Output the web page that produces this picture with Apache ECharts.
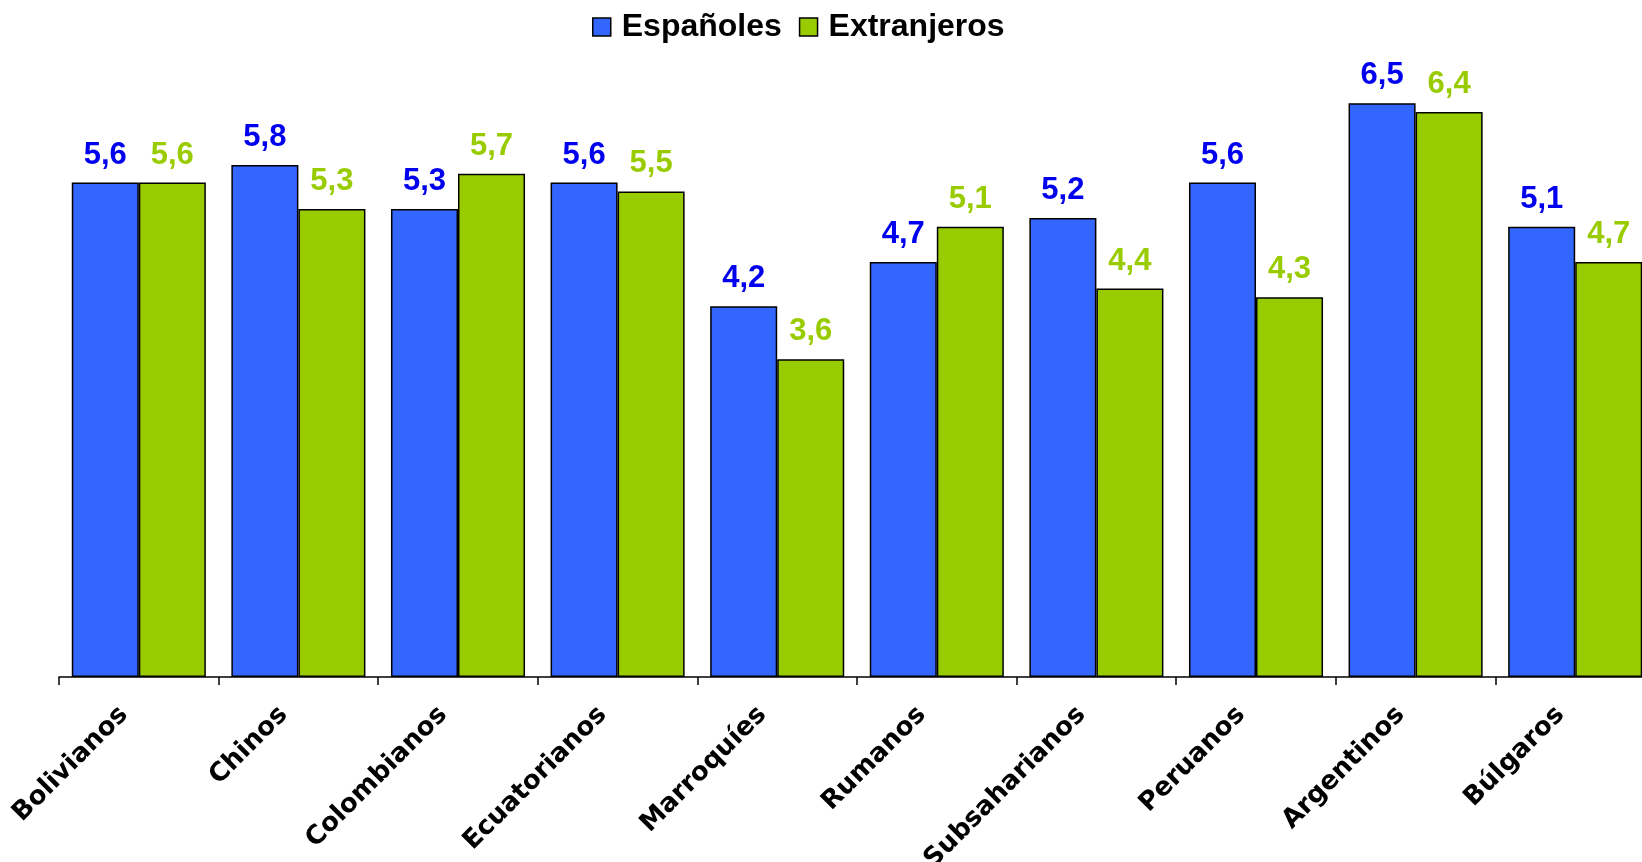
<!DOCTYPE html>
<html>
<head>
<meta charset="utf-8">
<script src="https://cdn.jsdelivr.net/npm/echarts@6/dist/echarts.min.js"></script>
<style>
  html, body { margin: 0; padding: 0; background: #fff; }
  #chart { width: 1642px; height: 862px; }
</style>
</head>
<body>
<div id="chart"></div>
<script>
const categories = ['Bolivianos', 'Chinos', 'Colombianos', 'Ecuatorianos', 'Marroquíes',
  'Rumanos', 'Subsaharianos', 'Peruanos', 'Argentinos', 'Búlgaros'];
const espanoles = [5.6, 5.8, 5.3, 5.6, 4.2, 4.7, 5.2, 5.6, 6.5, 5.1];
const extranjeros = [5.6, 5.3, 5.7, 5.5, 3.6, 5.1, 4.4, 4.3, 6.4, 4.7];

const chart = echarts.init(document.getElementById('chart'));

// comma decimals like the original
const fmt = p => p.value.toFixed(1).replace('.', ',');

const labelStyle = color => ({
  show: true,
  position: 'top',
  distance: 12,
  formatter: fmt,
  color: color,
  fontFamily: 'Liberation Sans, Arial, sans-serif',
  fontWeight: 'bold',
  fontSize: 31
});

chart.setOption({
  animation: false,
  legend: {
    top: 6,
    left: 587,
    icon: 'rect',
    itemWidth: 18,
    itemHeight: 18,
    itemGap: 17,
    textStyle: {
      fontFamily: 'Liberation Sans, Arial, sans-serif',
      fontWeight: 'bold',
      fontSize: 32,
      color: '#000',
      padding: [0, 0, 0, 6]
    },
    itemStyle: { borderColor: '#000', borderWidth: 1.5 },
    data: ['Españoles', 'Extranjeros']
  },
  // plot runs past the right edge, last bar is cut off like the original
  grid: { left: 59, width: 1596, top: 59, bottom: 185, outerBoundsMode: 'none', containLabel: false },
  xAxis: {
    type: 'category',
    data: categories,
    axisLine: { lineStyle: { color: '#000', width: 1.5 } },
    axisTick: { show: true, length: 8, lineStyle: { color: '#000', width: 1.5 } },
    axisLabel: {
      rotate: 45,
      margin: 19,
      interval: 0,
      color: '#000',
      fontFamily: 'DejaVu Sans, Verdana, sans-serif',
      fontWeight: 'bold',
      fontSize: 26,
      padding: [0, 21, 0, 0]
    }
  },
  yAxis: {
    type: 'value',
    min: 0,
    max: 7,
    show: false,
    splitLine: { show: false }
  },
  series: [
    {
      name: 'Españoles',
      type: 'bar',
      data: espanoles,
      barGap: '0%',
      barCategoryGap: '16%',
      itemStyle: { color: '#3366FF', borderColor: '#000', borderWidth: 1.5 },
      label: labelStyle('#0000EE')
    },
    {
      name: 'Extranjeros',
      type: 'bar',
      data: extranjeros,
      itemStyle: { color: '#99CC00', borderColor: '#000', borderWidth: 1.5 },
      label: labelStyle('#99CC00')
    }
  ]
});
</script>
</body>
</html>
